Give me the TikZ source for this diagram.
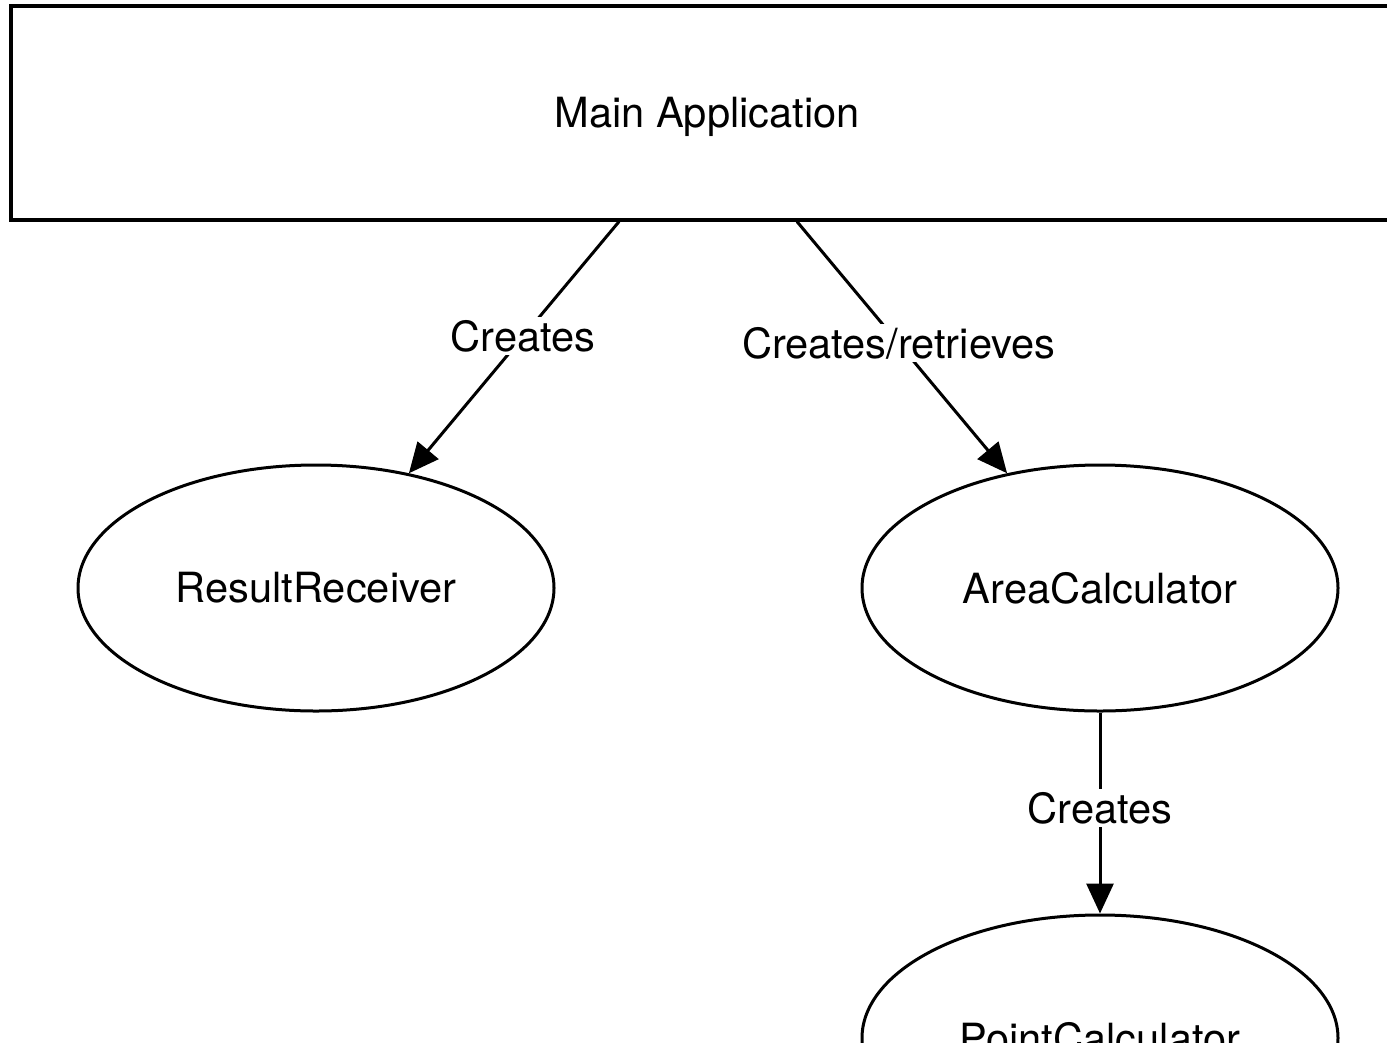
\documentclass[tikz,border=0pt]{standalone}
\usepackage{fontspec}
\setmainfont{TeX Gyre Heros}
\usetikzlibrary{shapes.geometric, arrows.meta}

\tikzset{
  appbox/.style={draw, line width=3.2pt, minimum width=1392pt, minimum height=214pt, inner sep=0pt, text depth=2pt},
  classnode/.style={draw, ellipse, line width=3pt, minimum width=476pt, minimum height=246pt, inner sep=0pt},
  creates/.style={line width=3pt, -{Triangle[length=30pt, width=27pt]}},
  edgelabel/.style={fill=white, inner sep=3pt}
}

\begin{document}
\begin{tikzpicture}[x=1pt, y=-1pt, font=\fontsize{41.6}{50}\selectfont]
% Picture frame (the drawing is cut at the right and bottom)
\useasboundingbox (0,0) rectangle (1387,1042);
\clip (0,0) rectangle (1387,1042);

% Main application box
\node[appbox] (main) at (707,113) {Main Application};

% Classes
\node[classnode] (receiver) at (316,588) {ResultReceiver};
\node[classnode] (area) at (1100,588) {AreaCalculator};
\node[classnode] (point) at (1100,1038) {PointCalculator};

% Creation links
\draw[creates] ([xshift=-88pt]main.south) -- (receiver.51) node[pos=0.456, edgelabel] {Creates};
\draw[creates] ([xshift=90pt]main.south) -- (area.129) node[pos=0.484, edgelabel] {Creates/retrieves};
\draw[creates] (area.south) -- (point.north) node[pos=0.475, edgelabel] {Creates};
\end{tikzpicture}
\end{document}
